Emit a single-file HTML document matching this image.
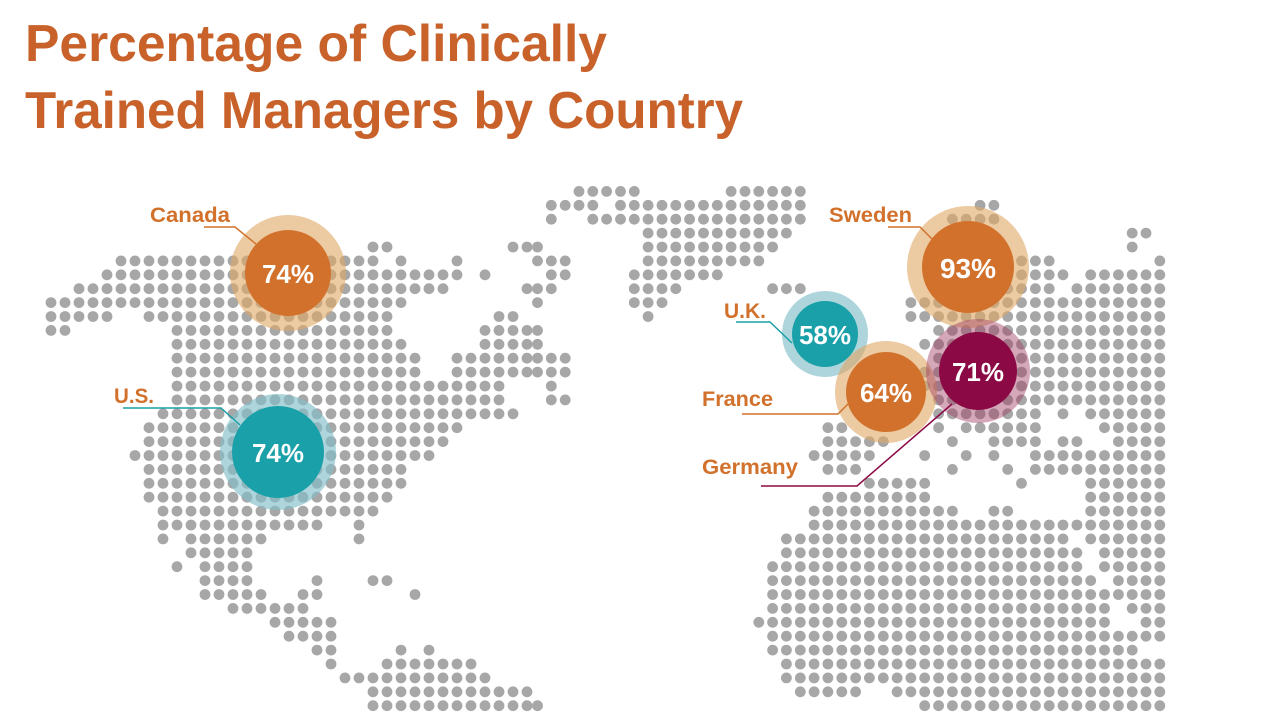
<!DOCTYPE html>
<html><head><meta charset="utf-8"><style>
html,body{margin:0;padding:0;background:#fff;width:1280px;height:720px;overflow:hidden}
svg{display:block}
text{font-family:"Liberation Sans",sans-serif;font-weight:bold}
</style></head><body>
<svg id="s" width="1280" height="720" viewBox="0 0 1280 720" xmlns="http://www.w3.org/2000/svg">
<g id="dots" fill="#a7a7a7"></g>
<g id="top"></g>
<text x="25" y="61" font-size="52" fill="#c8622a" textLength="582" lengthAdjust="spacingAndGlyphs">Percentage of Clinically</text>
<text x="25" y="128" font-size="52" fill="#c8622a" textLength="718" lengthAdjust="spacingAndGlyphs">Trained Managers by Country</text>

<!-- Canada -->
<circle cx="288" cy="273" r="58" fill="rgba(223,166,100,0.6)"/>
<circle cx="288" cy="273" r="43" fill="#d2712b"/>
<text x="288" y="283" font-size="26" fill="#fff" text-anchor="middle">74%</text>
<text x="150" y="222" font-size="21" fill="#d2712b" textLength="80" lengthAdjust="spacingAndGlyphs">Canada</text>
<polyline points="204,227 235,227 256,244" fill="none" stroke="#d2712b" stroke-width="1.5"/>

<!-- US -->
<circle cx="278" cy="452" r="58" fill="rgba(130,190,200,0.65)"/>
<circle cx="278" cy="452" r="46" fill="#1aa0a8"/>
<text x="278" y="462" font-size="26" fill="#fff" text-anchor="middle">74%</text>
<text x="114" y="403" font-size="21" fill="#d2712b" textLength="40" lengthAdjust="spacingAndGlyphs">U.S.</text>
<polyline points="123,408 221,408 240,425" fill="none" stroke="#1aa0a8" stroke-width="1.5"/>

<!-- Sweden -->
<circle cx="968" cy="267" r="61" fill="rgba(223,166,100,0.6)"/>
<circle cx="968" cy="267" r="46" fill="#d2712b"/>
<text x="968" y="278" font-size="28" fill="#fff" text-anchor="middle">93%</text>
<text x="829" y="222" font-size="21" fill="#d2712b" textLength="83" lengthAdjust="spacingAndGlyphs">Sweden</text>
<polyline points="888,227 920,227 932,239" fill="none" stroke="#d2712b" stroke-width="1.5"/>

<!-- UK -->
<circle cx="825" cy="334" r="43" fill="rgba(130,190,200,0.65)"/>
<circle cx="825" cy="334" r="33" fill="#1aa0a8"/>
<text x="825" y="344" font-size="26" fill="#fff" text-anchor="middle">58%</text>
<text x="724" y="318" font-size="21" fill="#d2712b" textLength="42" lengthAdjust="spacingAndGlyphs">U.K.</text>
<polyline points="736,322 770,322 792,343" fill="none" stroke="#1aa0a8" stroke-width="1.5"/>

<!-- France -->
<circle cx="886" cy="392" r="51" fill="rgba(223,166,100,0.6)"/>
<circle cx="886" cy="392" r="40" fill="#d2712b"/>
<text x="886" y="402" font-size="26" fill="#fff" text-anchor="middle">64%</text>
<text x="702" y="406" font-size="21" fill="#d2712b" textLength="71" lengthAdjust="spacingAndGlyphs">France</text>
<polyline points="742,414 838,414 848,404" fill="none" stroke="#d2712b" stroke-width="1.5"/>

<!-- Germany -->
<circle cx="978" cy="371" r="52" fill="rgba(160,60,100,0.45)"/>
<circle cx="978" cy="371" r="39" fill="#8b0a45"/>
<text x="978" y="381" font-size="26" fill="#fff" text-anchor="middle">71%</text>
<text x="702" y="474" font-size="21" fill="#d2712b" textLength="96" lengthAdjust="spacingAndGlyphs">Germany</text>
<polyline points="761,486 857,486 952,404" fill="none" stroke="#8b0a45" stroke-width="1.5"/>
</svg>
<script>
(function(){
var L=[
[0,[[23,24],[33,34]]],
[1,[[5,13],[14,21],[22,23],[25,25],[29,29]]],
[2,[[4,29],[31,31]]],
[3,[[2,28],[34,34]]],
[4,[[0,25]]],
[5,[[0,4],[7,24],[32,33]]],
[6,[[0,1],[9,24],[31,34]]],
[7,[[9,25],[31,34]]],
[8,[[9,26],[29,34]]],
[9,[[9,26],[29,34]]],
[10,[[9,32]]],
[11,[[9,32]]],
[12,[[8,33]]],
[13,[[7,29]]],
[14,[[7,28]]],
[15,[[6,27]]],
[16,[[7,25]]],
[17,[[7,25]]],
[18,[[7,24]]],
[19,[[8,23]]],
[20,[[8,19],[22,22]]],
[21,[[8,8],[10,15],[22,22]]],
[22,[[10,14]]],
[23,[[9,9],[11,14]]],
[24,[[11,14],[19,19],[23,24]]],
[25,[[11,15],[18,19],[26,26]]],
[26,[[13,18]]],
[27,[[16,20]]],
[28,[[17,20]]],
[29,[[19,20],[25,25],[27,27]]],
[30,[[20,20],[24,30]]],
[31,[[21,31]]],
[32,[[23,34]]],
[33,[[23,34]]]
];
var R=[
[-4,[[3,7],[14,19]]],
[-3,[[1,4],[6,19],[32,33]]],
[-2,[[1,1],[4,19],[30,33]]],
[-1,[[8,18],[43,44]]],
[0,[[0,0],[8,17],[30,33],[43,43]]],
[1,[[0,2],[8,16],[29,37],[45,45]]],
[2,[[1,2],[7,13],[29,38],[40,45]]],
[3,[[0,1],[7,10],[17,19],[29,37],[39,45]]],
[4,[[0,0],[7,9],[27,45]]],
[5,[[8,8],[27,45]]],
[6,[[0,0],[29,45]]],
[7,[[0,0],[28,45]]],
[8,[[0,2],[29,45]]],
[9,[[0,2],[28,45]]],
[10,[[1,1],[28,45]]],
[11,[[1,2],[29,45]]],
[12,[[29,36],[38,38],[40,45]]],
[13,[[21,22],[29,29],[31,36],[41,45]]],
[14,[[21,25],[30,30],[33,36],[38,39],[42,45]]],
[15,[[20,24],[28,28],[31,31],[33,33],[36,45]]],
[16,[[21,23],[30,30],[34,34],[36,45]]],
[17,[[24,28],[35,35],[40,45]]],
[18,[[21,28],[40,45]]],
[19,[[20,30],[33,34],[40,45]]],
[20,[[20,45]]],
[21,[[18,38],[40,45]]],
[22,[[18,39],[41,45]]],
[23,[[17,39],[41,45]]],
[24,[[17,40],[42,45]]],
[25,[[17,41],[42,45]]],
[26,[[17,41],[43,45]]],
[27,[[16,41],[44,45]]],
[28,[[17,45]]],
[29,[[17,43]]],
[30,[[18,45]]],
[31,[[18,45]]],
[32,[[19,23],[26,45]]],
[33,[[0,0],[28,45]]]
];
var g=document.getElementById('dots'),ns='http://www.w3.org/2000/svg',h='';
function add(rows,x0,dx){rows.forEach(function(r){var y=247+13.9*r[0];r[1].forEach(function(s){for(var c=s[0];c<=s[1];c++){h+='<circle cx="'+(x0+dx*c).toFixed(1)+'" cy="'+y.toFixed(1)+'" r="5.4"/>';}});});}
add(L,51,14);add(R,537.5,13.83);
g.innerHTML=h;
})();
</script>
</body></html>
